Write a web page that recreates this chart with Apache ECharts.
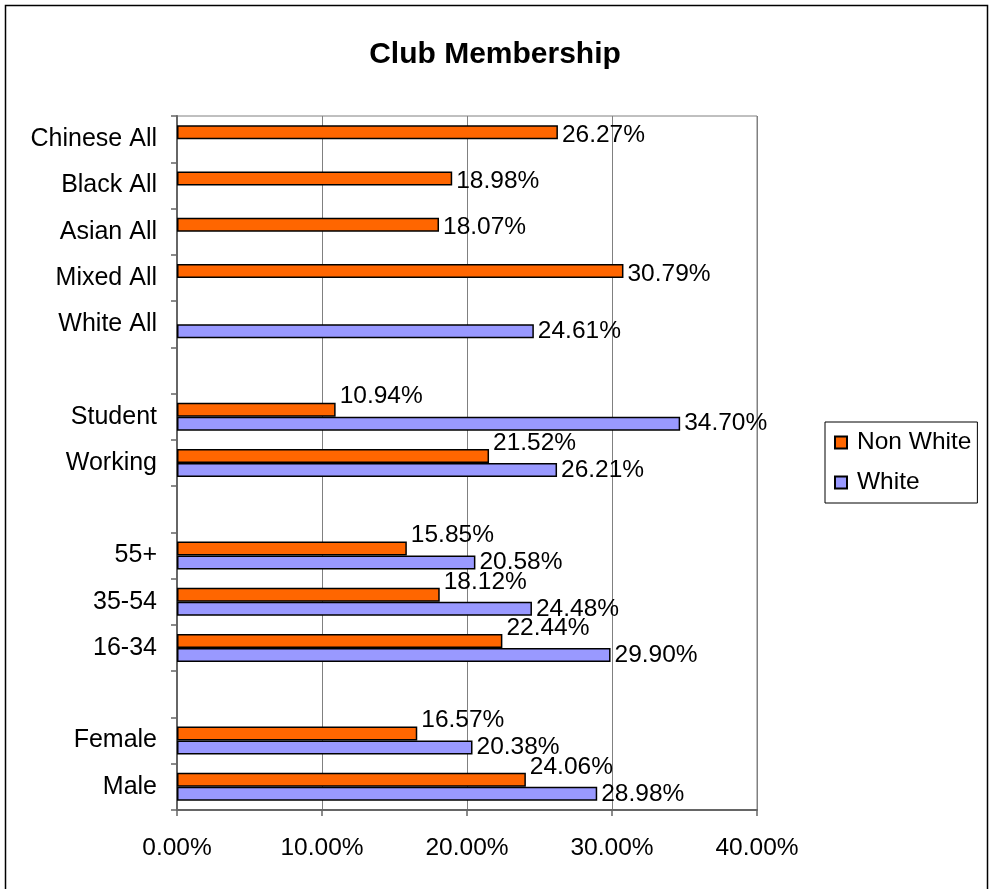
<!DOCTYPE html>
<html>
<head>
<meta charset="utf-8">
<script src="https://cdn.jsdelivr.net/npm/echarts@6/dist/echarts.min.js"></script>
<style>
  html, body { margin: 0; padding: 0; background: #fff; }
  #chart { width: 990px; height: 889px; }
</style>
</head>
<body>
<div id="chart"></div>
<script>
// categories, bottom to top (blank rows separate the groups)
var categories = ['Male', 'Female', ' ', '16-34', '35-54', '55+', '  ', 'Working', 'Student', '   ', 'White All', 'Mixed All', 'Asian All', 'Black All', 'Chinese All'];
var nonWhite = [24.06, 16.57, null, 22.44, 18.12, 15.85, null, 21.52, 10.94, null, null, 30.79, 18.07, 18.98, 26.27];
var white = [28.98, 20.38, null, 29.90, 24.48, 20.58, null, 26.21, 34.70, null, 24.61, null, null, null, null];
var xTicks = [0, 10, 20, 30, 40];

var font = 'Liberation Sans, Arial, sans-serif';

function pct(v) {
	return Number(v).toFixed(2) + '%';
}

// non white labels sit higher when a white bar shares the row
var nonWhiteData = nonWhite.map(function(v, i) {
	return {
		value: v,
		label: { offset: [0, white[i] == null ? 3 : -13] }
	};
});

var labelStyle = {
	show: true,
	position: 'right',
	distance: 4,
	fontSize: 24.5,
	fontFamily: font,
	color: '#000',
	formatter: function(p) {
		return p.value == null ? '' : pct(p.value);
	}
};

var chart = echarts.init(document.getElementById('chart'));

chart.setOption({
	animation: false,
	backgroundColor: '#fff',
	title: {
		text: 'Club Membership',
		left: 'center',
		top: 35,
		textStyle: {
			fontSize: 30,
			fontWeight: 'bold',
			fontFamily: font,
			color: '#000'
		}
	},
	legend: {
		data: ['Non White', 'White'],
		orient: 'vertical',
		left: 825,
		top: 422,
		padding: [8, 6, 8, 9],
		itemGap: 15,
		itemWidth: 12,
		itemHeight: 12,
		icon: 'rect',
		borderColor: '#000',
		borderWidth: 1,
		textStyle: {
			fontSize: 24.5,
			fontFamily: font,
			color: '#000',
			padding: [0, 0, 0, 5]
		}
	},
	grid: {
		left: 177,
		right: 233,
		top: 116,
		bottom: 79,
		show: true,
		borderColor: '#808080',
		borderWidth: 1
	},
	xAxis: {
		type: 'value',
		min: xTicks[0],
		max: xTicks[xTicks.length - 1],
		interval: 10,
		axisLine: { show: true, lineStyle: { color: '#666', width: 2 } },
		axisTick: { show: true, length: 6, lineStyle: { color: '#666', width: 1.5 } },
		splitLine: { show: true, lineStyle: { color: '#808080', width: 1 } },
		axisLabel: {
			margin: 26,
			fontSize: 24.5,
			fontFamily: font,
			color: '#000',
			formatter: function(v) { return pct(v); }
		}
	},
	yAxis: {
		type: 'category',
		data: categories,
		axisLine: { show: true, lineStyle: { color: '#666', width: 2 } },
		axisTick: { show: true, length: 6, lineStyle: { color: '#666', width: 1.5 } },
		axisLabel: {
			margin: 20,
			fontSize: 25,
			fontFamily: font,
			color: '#000'
		}
	},
	series: [{
		name: 'Non White',
		type: 'bar',
		data: nonWhiteData,
		barWidth: 14,
		barGap: '0%',
		itemStyle: { color: '#FF6600', borderColor: '#000', borderWidth: 1.5 },
		label: labelStyle
	}, {
		name: 'White',
		type: 'bar',
		data: white,
		barWidth: 14,
		barGap: '0%',
		itemStyle: { color: '#9999FF', borderColor: '#000', borderWidth: 1.5 },
		label: labelStyle
	}],
	graphic: [{
		type: 'rect',
		shape: { x: 5.5, y: 5.5, width: 982, height: 900 },
		style: { fill: 'none', stroke: '#000', lineWidth: 1.5 },
		silent: true
	}]
});
</script>
</body>
</html>
